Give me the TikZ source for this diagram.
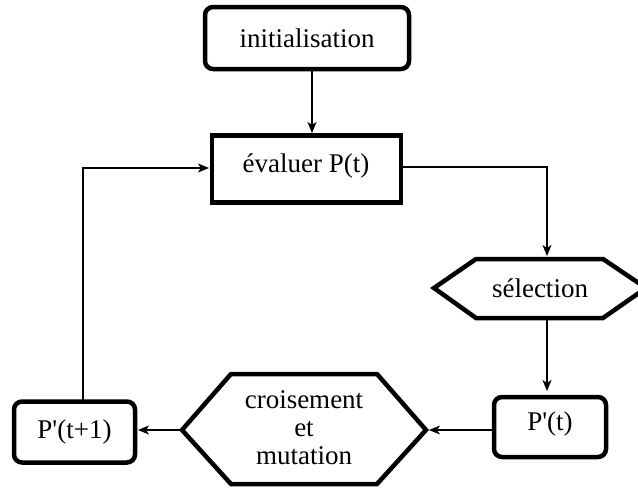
\documentclass[tikz,border=0pt]{standalone}
\usepackage{fontspec}
\setmainfont{Liberation Serif}
\usetikzlibrary{arrows.meta}
\begin{document}
\begin{tikzpicture}[x=1pt,y=-1pt,
  font=\fontsize{27}{28}\selectfont,
  rbox/.style={draw,line width=4.5pt,rounded corners=8pt,inner sep=0pt},
  sbox/.style={draw,line width=4.5pt,inner sep=0pt},
  hexa/.style={draw,line width=4.5pt,line join=miter},
  lbl/.style={inner sep=0pt,align=center},
  conn/.style={line width=1.4pt,-{Stealth[length=11pt,width=9pt,inset=3pt]}}]
\useasboundingbox (0,0) rectangle (638,488);
% boxes
\node[rbox,minimum width=204pt,minimum height=62pt] (init) at (307,38) {initialisation};
\node[sbox,minimum width=189pt,minimum height=67pt] (eval) at (306.5,169) {};
\node[lbl] (evaltxt) at (306,166) {évaluer P(t)};
\node[rbox,minimum width=112pt,minimum height=60pt] (pt) at (550,427) {};
\node[lbl] (pttxt) at (550,424) {P\textquotesingle(t)};
\node[rbox,minimum width=121pt,minimum height=61pt] (pt1) at (74.5,432) {P\textquotesingle(t+1)};
% selection hexagon
\coordinate (selW) at (434,288);
\coordinate (selS) at (547,318);
\draw[hexa] (434,288) -- (476,259) -- (603,259) -- (646,288) -- (603,318) -- (476,318) -- cycle;
\node[lbl] (sel) at (540,288) {sélection};
% croisement hexagon
\coordinate (croW) at (182,430);
\coordinate (croE) at (426,430);
\draw[hexa] (182,430) -- (231,374) -- (377,374) -- (426,430) -- (377,484) -- (231,484) -- cycle;
\node[lbl,font=\fontsize{27}{28}\selectfont] (cro) at (304,428) {croisement\\et\\mutation};
% connectors
\coordinate (initS) at (312,71);
\coordinate (evalN) at (312,133);
\draw[conn] (initS) -- (evalN);
\coordinate (evalE) at (403,167);
\coordinate (selTop) at (547,256);
\draw[conn] (evalE) -- (547,167) -- (selTop);
\coordinate (ptN) at (547,391);
\draw[conn] (selS) -- (ptN);
\coordinate (ptW) at (492,430);
\coordinate (croEt) at (429,430);
\draw[conn] (ptW) -- (croEt);
\coordinate (pt1E) at (138,430);
\draw[conn] (croW) -- (pt1E);
\coordinate (pt1N) at (83,400);
\coordinate (evalW) at (209,168);
\draw[conn] (pt1N) -- (83,168) -- (evalW);
\end{tikzpicture}
\end{document}
